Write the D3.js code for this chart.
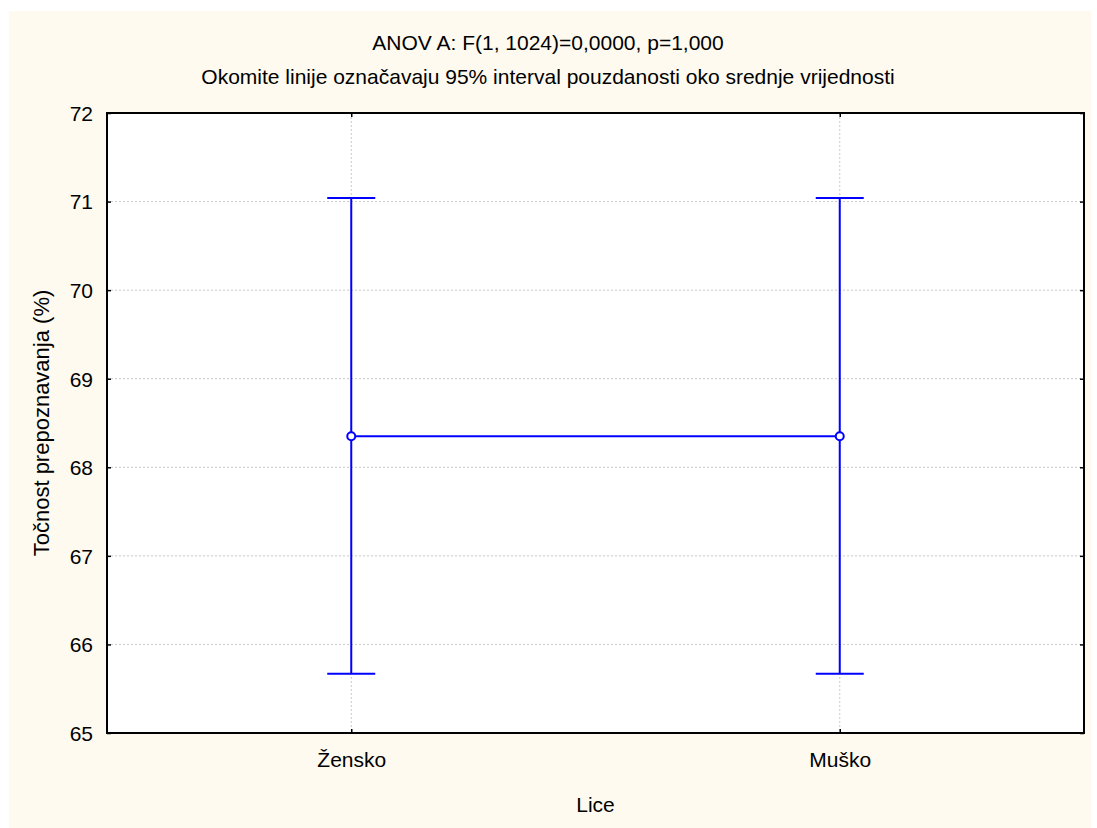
<!DOCTYPE html>
<html><head><meta charset="utf-8">
<script src="https://cdn.jsdelivr.net/npm/d3@7"></script>
<style>body{margin:0;background:#fff;} text{font-family:"Liberation Sans",Arial,sans-serif;}</style>
</head><body><svg id="c" width="1097" height="828"></svg>
<script>
const categories = ["Žensko", "Muško"];
const means = [68.35, 68.35];
const lower = [65.67, 65.67];
const upper = [71.04, 71.04];
const yTicks = [65, 66, 67, 68, 69, 70, 71, 72];
const title = "ANOV A: F(1, 1024)=0,0000, p=1,000";
const subtitle = "Okomite linije označavaju 95% interval pouzdanosti oko srednje vrijednosti";
const xLabel = "Lice";
const yLabel = "Točnost prepoznavanja (%)";

const svg = d3.select("#c");
const L = 107, R = 1084, T = 113, B = 733;
svg.append("rect").attr("x", 9).attr("y", 11).attr("width", 1082).attr("height", 817).attr("fill", "#fefaef");
svg.append("rect").attr("x", L).attr("y", T).attr("width", R - L).attr("height", B - T).attr("fill", "#fff");

const x = d3.scalePoint().domain(categories).range([L, R]).padding(0.5);
const y = d3.scaleLinear().domain([65, 72]).range([B, T]);

const g = svg.append("g");
g.selectAll(".hg").data(yTicks.slice(1, -1)).join("line")
  .attr("x1", L).attr("x2", R).attr("y1", d => y(d)).attr("y2", d => y(d))
  .attr("stroke", "#c8c8c8").attr("stroke-dasharray", "2,2");
g.selectAll(".vg").data(categories).join("line")
  .attr("x1", d => x(d)).attr("x2", d => x(d)).attr("y1", T).attr("y2", B)
  .attr("stroke", "#c8c8c8").attr("stroke-dasharray", "2,2");

const fs = "21px";
const ax = svg.append("g").attr("transform", `translate(${L},0)`)
  .call(d3.axisLeft(y).tickValues(yTicks).tickSize(-4).tickPadding(14).tickFormat(d3.format("d")));
ax.selectAll("text").style("font-size", fs).attr("fill", "#000").attr("dy", "0.35em");
const axR = svg.append("g").attr("transform", `translate(${R},0)`)
  .call(d3.axisRight(y).tickValues(yTicks).tickSize(-4).tickFormat(""));
const axB = svg.append("g").attr("transform", `translate(0,${B})`)
  .call(d3.axisBottom(x).tickSize(-4).tickPadding(19));
axB.selectAll("text").style("font-size", fs).attr("fill", "#000");
const axT = svg.append("g").attr("transform", `translate(0,${T})`)
  .call(d3.axisTop(x).tickSize(-4).tickFormat(""));
[ax, axR, axB, axT].forEach(a => {
  a.select(".domain").remove();
  a.selectAll(".tick line").attr("stroke", "#000").attr("stroke-width", 1.5);
});
svg.append("rect").attr("x", L).attr("y", T).attr("width", R - L).attr("height", B - T)
  .attr("fill", "none").attr("stroke", "#000").attr("stroke-width", 2);

const blue = "#0000ff";
const dg = svg.append("g");
dg.selectAll(".eb").data(categories).join("line")
  .attr("x1", d => x(d)).attr("x2", d => x(d))
  .attr("y1", (d, i) => y(lower[i])).attr("y2", (d, i) => y(upper[i]))
  .attr("stroke", blue).attr("stroke-width", 2);
const capW = 24;
dg.selectAll(".cu").data(categories).join("line")
  .attr("x1", d => x(d) - capW).attr("x2", d => x(d) + capW)
  .attr("y1", (d, i) => y(upper[i])).attr("y2", (d, i) => y(upper[i]))
  .attr("stroke", blue).attr("stroke-width", 2);
dg.selectAll(".cl").data(categories).join("line")
  .attr("x1", d => x(d) - capW).attr("x2", d => x(d) + capW)
  .attr("y1", (d, i) => y(lower[i])).attr("y2", (d, i) => y(lower[i]))
  .attr("stroke", blue).attr("stroke-width", 2);
const line = d3.line().x((d, i) => x(categories[i])).y(d => y(d));
dg.append("path").datum(means).attr("d", line).attr("fill", "none").attr("stroke", blue).attr("stroke-width", 2);
dg.selectAll(".pt").data(categories).join("circle")
  .attr("cx", d => x(d)).attr("cy", (d, i) => y(means[i])).attr("r", 4)
  .attr("fill", "#fff").attr("stroke", blue).attr("stroke-width", 2);

const tcx = 548;
svg.append("text").attr("x", tcx).attr("y", 50).attr("text-anchor", "middle").style("font-size", "21px").text(title);
svg.append("text").attr("x", tcx).attr("y", 84).attr("text-anchor", "middle").style("font-size", "21px").text(subtitle);
svg.append("text").attr("x", (L + R) / 2).attr("y", 812).attr("text-anchor", "middle").style("font-size", "21px").text(xLabel);
svg.append("text").attr("transform", `translate(49,${(T + B) / 2}) rotate(-90)`).attr("text-anchor", "middle").style("font-size", "22px").text(yLabel);
</script></body></html>
